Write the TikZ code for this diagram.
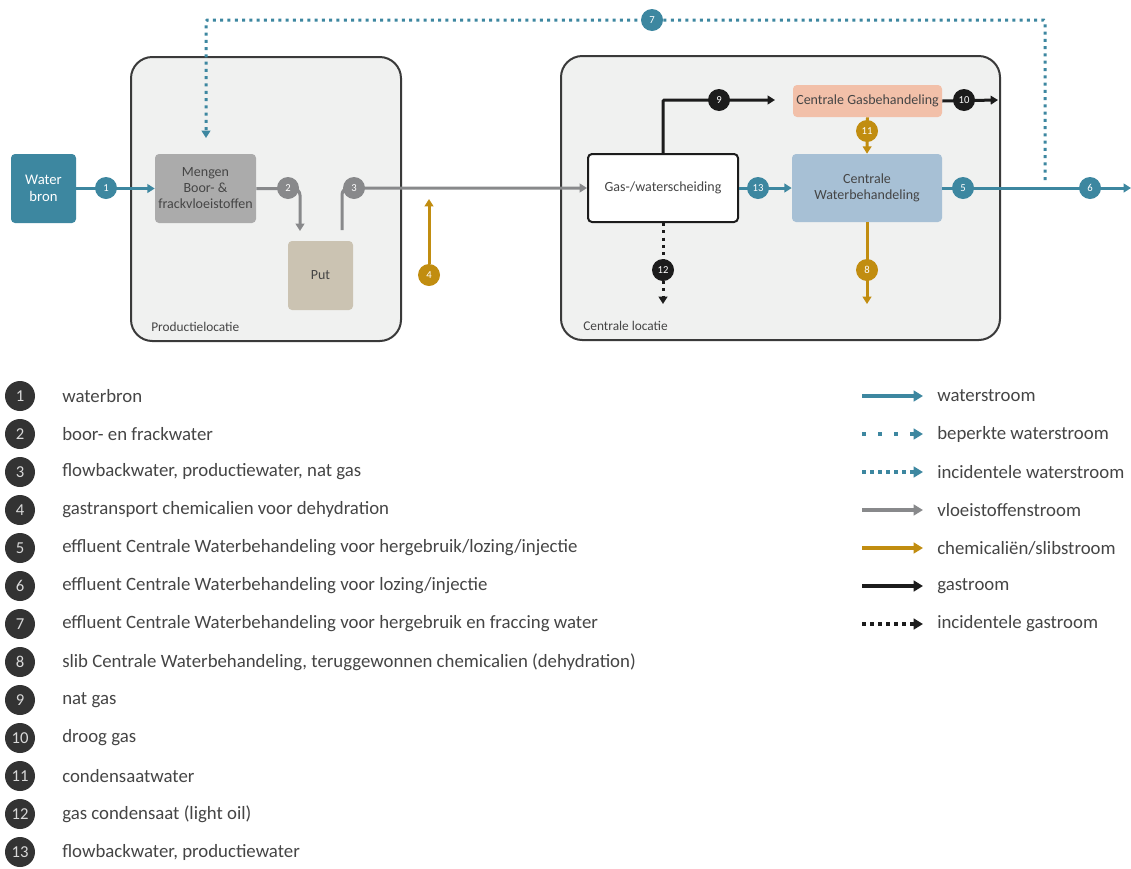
\documentclass[tikz,border=0pt]{standalone}
\usepackage{fontspec}
\setmainfont{Carlito}
\usetikzlibrary{arrows.meta}
\definecolor{cTeal}{HTML}{3D87A0}
\definecolor{cGray}{HTML}{88898B}
\definecolor{cGold}{HTML}{C18D10}
\definecolor{cBlack}{HTML}{1C1C1C}
\definecolor{cFrame}{HTML}{3A3A3A}
\definecolor{cBg}{HTML}{F0F1F0}
\definecolor{cMix}{HTML}{ABABAB}
\definecolor{cPut}{HTML}{CBC3B2}
\definecolor{cGasB}{HTML}{F2C0A9}
\definecolor{cWatB}{HTML}{A7C0D5}
\definecolor{cTxt}{HTML}{454545}
\definecolor{cLeg}{HTML}{333333}
\tikzset{
  head/.style={-{Triangle[length=5.5pt,width=6.5pt]}},
  flowline/.style={line width=2.25pt, head},
  wflow/.style={flowline, draw=cTeal},
  gflow/.style={flowline, draw=cGray},
  yflow/.style={flowline, draw=cGold},
  kflow/.style={flowline, draw=cBlack},
  wdot/.style={wflow, dash pattern=on 2.25pt off 3.2pt},
  kdot/.style={kflow, dash pattern=on 2.25pt off 3.2pt},
  container/.style={draw=cFrame, line width=1.5pt, fill=cBg, rounded corners=16pt, inner sep=0pt},
  procbox/.style={rounded corners=3pt, inner sep=1pt, align=center, text=cTxt, font=\fontsize{10.5pt}{12pt}\selectfont},
  num/.style={circle, minimum size=16.5pt, inner sep=0pt, text=white, font=\fontsize{8pt}{8pt}\selectfont},
  numT/.style={num, fill=cTeal},
  numG/.style={num, fill=cGray},
  numY/.style={num, fill=cGold},
  numK/.style={num, fill=cBlack},
  legnum/.style={circle, minimum size=22.5pt, inner sep=0pt, fill=cLeg, text=white!85!black, font=\fontsize{12.5pt}{12.5pt}\selectfont},
  legtxt/.style={anchor=west, text=cTxt, font=\fontsize{14.1pt}{16pt}\selectfont, inner sep=0pt},
  legline/.style={line width=3pt, -{Triangle[length=7pt,width=8pt]}},
  loclabel/.style={anchor=west, text=cTxt, font=\fontsize{10pt}{12pt}\selectfont, inner sep=0pt}
}
\begin{document}
\begin{tikzpicture}[x=0.75pt,y=-0.75pt]
\useasboundingbox[fill=white] (0,0) rectangle (1131,868);

% containers
\node[container, minimum width=202.5pt, minimum height=213pt] (prod) at (266,199) {};
\node[loclabel] (prodlab) at (151,327) {Productielocatie};
\node[container, minimum width=329.25pt, minimum height=213pt] (cent) at (780.5,198) {};
\node[loclabel] (centlab) at (583,326) {Centrale locatie};

% process boxes
\node[procbox, fill=cTeal, text=white, minimum width=48.75pt, minimum height=51.75pt, font=\fontsize{11pt}{13pt}\selectfont] (water) at (43.5,188.5) {Water\\bron};
\node[procbox, fill=cMix, minimum width=75.75pt, minimum height=51.75pt] (mix) at (205.5,188.5) {Mengen\\Boor- \&\\frackvloeistoffen};
\node[procbox, fill=cPut, minimum width=48.75pt, minimum height=51.75pt] (put) at (320.5,275.5) {Put};
\node[procbox, fill=white, draw=cBlack, line width=1.5pt, minimum width=112.5pt, minimum height=51pt] (sep) at (663,188) {Gas-/waterscheiding};
\node[procbox, fill=cGasB, minimum width=111.75pt, minimum height=24pt] (gasb) at (867.5,101) {Centrale Gasbehandeling};
\node[procbox, fill=cWatB, minimum width=112.5pt, minimum height=51pt] (watb) at (867,188) {Centrale\\Waterbehandeling};

% coordinates for free ends
\coordinate (p2) at (300,231);
\coordinate (p3) at (342,230);
\coordinate (p4) at (429,199);
\coordinate (p9) at (775,100);
\coordinate (p10) at (998,100);
\coordinate (p8) at (867,304);
\coordinate (p12) at (663,304);
\coordinate (p6) at (1131,188);
\coordinate (p7a) at (1045,180);
\coordinate (p7b) at (206,20);
\coordinate (p7c) at (206,138);

% connectors
\draw[wflow] (water) -- (mix);
\draw[gflow, rounded corners=5pt] (mix.east) -| (p2);
\draw[gflow, rounded corners=5pt] (p3) |- (sep.west);
\draw[yflow] (429,264) -- (p4);
\draw[kflow, rounded corners=1pt] (sep.north) |- (p9);
\draw[kflow] (gasb.east) -- (p10);
\draw[yflow] (gasb.south) -- (watb.north);
\draw[wflow] (sep.east) -- (watb.west);
\draw[yflow] (watb.south) -- (p8);
\draw[kdot] (sep.south) -- (p12);
\draw[wflow] (watb.east) -- (p6);
\draw[wdot, rounded corners=1pt] (p7a) -- (1045,20) -- (p7b) -- (p7c);

% number markers
\node[numT] (n1) at (106,188) {1};
\node[numG] (n2) at (288,188) {2};
\node[numG] (n3) at (354,188) {3};
\node[numY] (n4) at (429,275) {4};
\node[numT] (n5) at (963,188) {5};
\node[numT] (n6) at (1090,188) {6};
\node[numT] (n7) at (652,20) {7};
\node[numY] (n8) at (867,270) {8};
\node[numK] (n9) at (719,100) {9};
\node[numK] (n10) at (964,100) {10};
\node[numY] (n11) at (867,131) {11};
\node[numK] (n12) at (663,270) {12};
\node[numT] (n13) at (758,188) {13};

% numbered legend
\foreach \i/\t in {
 1/{waterbron},
 2/{boor- en frackwater},
 3/{flowbackwater, productiewater, nat gas},
 4/{gastransport chemicalien voor dehydration},
 5/{effluent Centrale Waterbehandeling voor hergebruik/lozing/injectie},
 6/{effluent Centrale Waterbehandeling voor lozing/injectie},
 7/{effluent Centrale Waterbehandeling voor hergebruik en fraccing water},
 8/{slib Centrale Waterbehandeling, teruggewonnen chemicalien (dehydration)},
 9/{nat gas},
 10/{droog gas},
 11/{condensaatwater},
 12/{gas condensaat (light oil)},
 13/{flowbackwater, productiewater}} {
  \node[legnum] (L\i) at (20,{396+38*(\i-1)}) {\i};
  \node[legtxt] (LT\i) at (62,{396+38*(\i-1)}) {\t};
}

% flow legend
\foreach \k/\t in {1/{waterstroom}, 2/{beperkte waterstroom}, 3/{incidentele waterstroom}, 4/{vloeistoffenstroom}, 5/{chemicaliën/slibstroom}, 6/{gastroom}, 7/{incidentele gastroom}} {
  \coordinate (A\k) at (862,{396+38*(\k-1)});
  \coordinate (B\k) at (923,{396+38*(\k-1)});
  \node[legtxt] (FT\k) at (937,{396+38*(\k-1)}) {\t};
}
\draw[legline, draw=cTeal] (A1) -- (B1);
\draw[legline, draw=cTeal, dash pattern=on 3pt off 9pt] (A2) -- (B2);
\draw[legline, draw=cTeal, dash pattern=on 3pt off 3pt] (A3) -- (B3);
\draw[legline, draw=cGray] (A4) -- (B4);
\draw[legline, draw=cGold] (A5) -- (B5);
\draw[legline, draw=cBlack] (A6) -- (B6);
\draw[legline, draw=cBlack, dash pattern=on 3pt off 3pt] (A7) -- (B7);
\end{tikzpicture}
\end{document}
